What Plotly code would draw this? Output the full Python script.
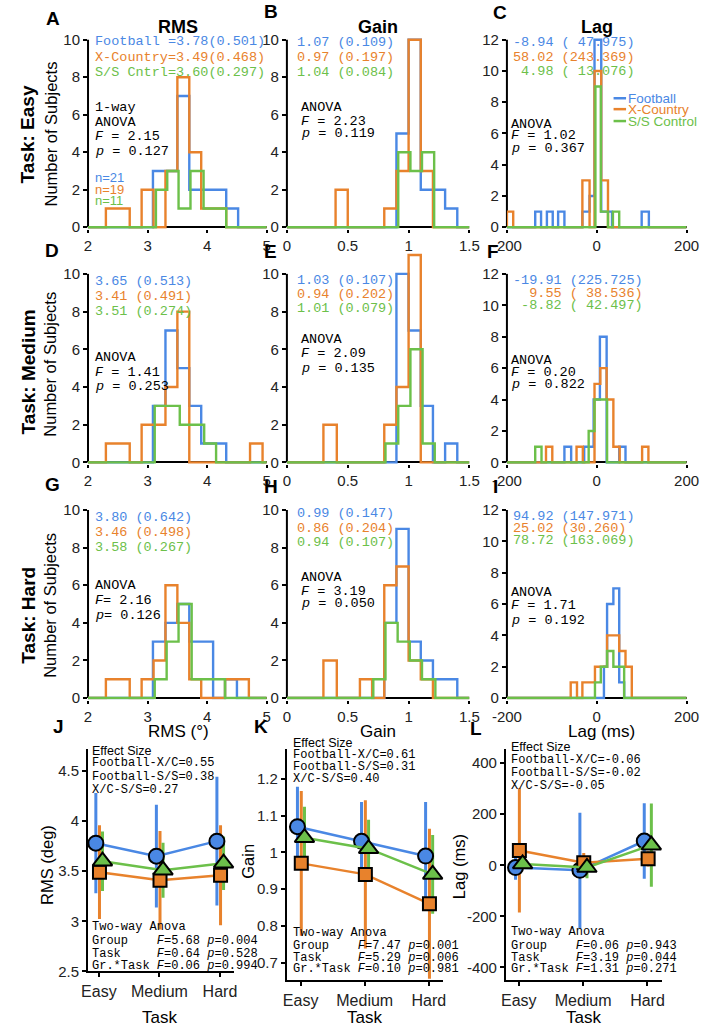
import plotly.graph_objects as go

W, H = 714, 1035

groups = ["Football", "X-Country", "S/S Control"]
short_groups = ["Football ", "X-Country", "S/S Cntrl"]
colors = ["#4A88E4", "#E8822C", "#6CC04A"]
tasks = ["Easy", "Medium", "Hard"]
n_subjects = [21, 19, 11]

# mean / sd, rows = group (Football, X-Country, S/S Control), cols = task (Easy, Medium, Hard)
rms_mean = [[3.78, 3.65, 3.80], [3.49, 3.41, 3.46], [3.60, 3.51, 3.58]]
rms_sd = [[0.501, 0.513, 0.642], [0.468, 0.491, 0.498], [0.297, 0.274, 0.267]]
gain_mean = [[1.07, 1.03, 0.99], [0.97, 0.94, 0.86], [1.04, 1.01, 0.94]]
gain_sd = [[0.109, 0.107, 0.147], [0.197, 0.202, 0.204], [0.084, 0.079, 0.107]]
lag_mean = [[-8.94, -19.91, 94.92], [58.02, 9.55, 25.02], [4.98, -8.82, 78.72]]
lag_sd = [[47.975, 225.725, 147.971], [243.369, 38.536, 30.260], [13.076, 42.497, 163.069]]

# one-way ANOVA, rows = task, cols = measure (RMS, Gain, Lag)
anova_F = [[2.15, 2.23, 1.02], [1.41, 2.09, 0.20], [2.16, 3.19, 1.71]]
anova_p = [[0.127, 0.119, 0.367], [0.253, 0.135, 0.822], [0.126, 0.050, 0.192]]

effect_labels = ["Football-X/C", "Football-S/S", "X/C-S/S"]
rms_effect = [0.55, 0.38, 0.27]
gain_effect = [0.61, 0.31, 0.40]
lag_effect = [-0.06, -0.02, -0.05]

anova2_rows = ["Group", "Task", "Gr.*Task"]
rms_F2 = [5.68, 0.64, 0.06]
rms_p2 = [0.004, 0.528, 0.994]
gain_F2 = [7.47, 5.29, 0.10]
gain_p2 = [0.001, 0.006, 0.981]
lag_F2 = [0.06, 3.19, 1.31]
lag_p2 = [0.943, 0.044, 0.271]

# histogram bin edges / counts per panel, lists = [Football, X-Country, S/S Control]
edges_A = [[3.09, 3.3, 3.5, 3.7, 3.9, 4.1, 4.32, 4.52],
           [2.3, 2.7, 2.9, 3.1, 3.3, 3.5, 3.7, 3.9, 4.32],
           [3.14, 3.33, 3.52, 3.72, 3.94, 4.32]]
counts_A = [[3, 3, 7, 2, 2, 2, 1], [1, 0, 2, 0, 3, 8, 4, 1], [2, 3, 1, 3, 1]]
edges_B = [[0.9, 1.0, 1.1, 1.2, 1.3, 1.4],
           [0.4, 0.5, 0.8, 0.9, 1.0, 1.1, 1.2],
           [0.915, 1.015, 1.11, 1.21]]
counts_B = [[5, 10, 2, 2, 1], [2, 0, 1, 3, 10, 3], [4, 3, 4]]
edges_C = [[-137, -124, -111, -98, -86, -72, -32, -16, -5, 10, 22, 34, 100, 116],
           [-200, -186, -32, -16, -5, 10, 25],
           [-3, 9, 25, 36, 50]]
counts_C = [[1, 0, 1, 0, 1, 0, 1, 2, 12, 1, 1, 0, 1], [1, 0, 3, 0, 10, 3], [9, 1, 0, 1]]
edges_D = [[3.09, 3.3, 3.5, 3.7, 3.9, 4.32],
           [2.3, 2.7, 2.9, 3.3, 3.5, 3.7, 4.72, 4.93],
           [3.12, 3.54, 3.95, 4.15]]
counts_D = [[3, 7, 5, 3, 1], [1, 0, 2, 4, 8, 0, 1], [3, 2, 1]]
edges_E = [[0.9, 1.0, 1.1, 1.2, 1.3, 1.4],
           [0.3, 0.41, 0.8, 0.9, 1.0, 1.1],
           [0.81, 0.915, 1.015, 1.115, 1.215]]
counts_E = [[10, 7, 3, 0, 1], [2, 0, 2, 4, 11], [1, 3, 6, 1]]
edges_F = [[-72, -57, -28, -7, 7, 22, 50, 64],
           [-113, -99, -45, -31, -5, 8, 22, 37, 51, 101, 115],
           [-137, -123, -18, -5, 9, 23]]
counts_F = [[1, 0, 1, 4, 8, 0, 1], [1, 0, 1, 0, 5, 6, 4, 1, 0, 1], [1, 0, 2, 4, 4]]
edges_G = [[3.09, 3.3, 3.5, 3.7, 4.1, 4.3, 4.5],
           [2.3, 2.7, 2.9, 3.1, 3.3, 3.5, 3.7, 3.9, 4.3, 4.7],
           [3.12, 3.32, 3.52, 3.74, 4.3]]
counts_G = [[3, 4, 5, 3, 0, 1], [1, 0, 1, 2, 6, 4, 1, 0, 1], [1, 3, 5, 1]]
edges_H = [[0.8, 0.9, 1.0, 1.1, 1.2, 1.4],
           [0.3, 0.41, 0.6, 0.7, 0.8, 0.9, 1.0, 1.1, 1.2],
           [0.71, 0.81, 0.91, 1.01, 1.11, 1.22]]
counts_H = [[4, 9, 3, 2, 1], [2, 0, 1, 0, 6, 7, 2, 1], [1, 4, 3, 2, 1]]
edges_I = [[16, 23, 37, 50, 61],
           [-58, -44, -32, -4, 23, 50, 64, 78],
           [-4, 9, 23, 37, 61]]
counts_I = [[2, 6, 7, 1], [1, 0, 1, 2, 4, 3, 2], [1, 2, 3, 2]]

hist_edges = [[edges_A, edges_B, edges_C], [edges_D, edges_E, edges_F], [edges_G, edges_H, edges_I]]
hist_counts = [[counts_A, counts_B, counts_C], [counts_D, counts_E, counts_F], [counts_G, counts_H, counts_I]]

measure_x_range = [[2, 5], [0, 1.5], [-200, 200]]
measure_x_ticks = [[2, 3, 4, 5], [0, 0.5, 1, 1.5], [-200, 0, 200]]
measure_x_ticktext = [["2", "3", "4", "5"], ["0", "0.5", "1", "1.5"], ["-200", "0", "200"]]
measure_y_top = [10, 10, 12]
hist_titles = ["RMS", "Gain", "Lag"]
hist_xtitles = ["RMS (°)", "Gain", "Lag (ms)"]

SANS = "Liberation Sans, Arial, sans-serif"
MONO = "Liberation Mono, Courier New, monospace"
NB = "\u00a0"


def px(x):
    return x / W


def py(y):
    return 1 - y / H


fig = go.Figure()
layout = {}
annotations = []
shapes = []


def ann(text, x, y, size=14, color="black", family=MONO, xanchor="left", bold=False, angle=0):
    if bold:
        text = "<b>" + text + "</b>"
    annotations.append(dict(text=text, x=px(x), y=py(y), xref="paper", yref="paper",
                            xanchor=xanchor, yanchor="middle", showarrow=False,
                            textangle=angle, borderpad=0,
                            font=dict(size=size, color=color, family=family)))


# ---------- histogram panels ----------
hist_xdom = [(76, 262), (283, 473), (512, 699)]
hist_ydom = [(229, 40), (466, 276), (703.5, 514)]
EXTRA = 26

idx = 0
for r in range(3):
    for c in range(3):
        idx += 1
        xname = "xaxis" if idx == 1 else f"xaxis{idx}"
        yname = "yaxis" if idx == 1 else f"yaxis{idx}"
        xref = "x" if idx == 1 else f"x{idx}"
        yref = "y" if idx == 1 else f"y{idx}"
        top = measure_y_top[c]
        zero_px, top_px = hist_ydom[r]
        scale = (zero_px - top_px) / top
        xr = measure_x_range[c]
        layout[xname] = dict(domain=[px(hist_xdom[c][0]), px(hist_xdom[c][1])], range=xr,
                             anchor=yref, showgrid=False, zeroline=False, showline=False,
                             tickvals=measure_x_ticks[c], ticktext=measure_x_ticktext[c],
                             ticks="outside", ticklen=3, tickwidth=1.5, tickcolor="black",
                             tickfont=dict(size=15, family=SANS, color="#222"))
        layout[yname] = dict(domain=[py(zero_px + 1.5), py(top_px - EXTRA)],
                             range=[-1.5 / scale, top + EXTRA / scale],
                             anchor=xref, showgrid=False, zeroline=True, zerolinecolor="black",
                             zerolinewidth=1.8, showline=False,
                             tickvals=list(range(0, top + 1, 2)),
                             ticks="outside", ticklen=4, tickwidth=1.5, tickcolor="black",
                             tickfont=dict(size=15, family=SANS, color="#222"))
        shapes.append(dict(type="line", xref=f"{xref} domain", yref=yref, x0=0, x1=0, y0=0, y1=top,
                           line=dict(color="black", width=2), layer="below"))
        for g in range(3):
            e = hist_edges[r][c][g]
            cnt = hist_counts[r][c][g]
            xs = [xr[0]] + e + [xr[1]]
            ys = [0] + cnt + [0, 0]
            fig.add_trace(go.Scatter(x=xs, y=ys, mode="lines", line=dict(color=colors[g], width=2.4, shape="hv"),
                                     xaxis=xref, yaxis=yref, showlegend=False, hoverinfo="skip"))

# mean (sd) texts
means_all = [rms_mean, gain_mean, lag_mean]
sds_all = [rms_sd, gain_sd, lag_sd]
mean_text_pos = [
    [(82, [42, 58, 73]), (292, [43, 58, 73]), (517, [43, 58, 72])],
    [(82, [284, 299, 314]), (292, [283, 297, 311]), (517, [283, 296, 308])],
    [(82, [522, 537, 552]), (292, [517, 533, 547]), (517, [521, 533, 545])],
]
for r in range(3):
    for c in range(3):
        x0, ys = mean_text_pos[r][c]
        for g in range(3):
            m = means_all[c][g][r]
            s = sds_all[c][g][r]
            if r == 0 and c == 0:
                t = f"{short_groups[g]}={m:.2f}({s:.3f})"
            elif c < 2:
                t = f"{m:.2f} ({s:.3f})"
            elif r == 0:
                t = f"{m:5.2f} ({s:7.3f})"
            elif r == 1:
                t = f"{m:6.2f} ({s:7.3f})"
            else:
                t = f"{m:.2f} ({s:.3f})"
            ann(t.replace(" ", NB), x0, ys[g], size=13.5, color=colors[g])

# ANOVA texts
anova_pos = [
    [(82, [123, 138, 153]), (297, [108, 122, 135]), (515, [125, 137, 150])],
    [(82, [360, 375, 390]), (297, [342, 356, 371]), (515, [363, 375, 387])],
    [(82, [590, 605, 620]), (297, [582, 596, 608]), (515, [597, 610, 625])],
]
for r in range(3):
    for c in range(3):
        x0, ys = anova_pos[r][c]
        eq = "=" + NB if (r == 2 and c == 0) else NB + "=" + NB
        ann("ANOVA", x0, ys[0], size=13.5)
        ann(f"<i>F</i>{eq}{anova_F[r][c]:.2f}", x0, ys[1], size=13.5)
        ann(f"<i>p</i>{eq}{anova_p[r][c]:.3f}", x0, ys[2], size=13.5)
ann("1-way", 82, 108, size=13.5)
for g in range(3):
    ann(f"n={n_subjects[g]}", 82, [179, 191, 202][g], size=13, color=colors[g], family=SANS)

# legend in panel C
for g in range(3):
    yy = [99, 110, 122][g]
    shapes.append(dict(type="line", xref="paper", yref="paper", x0=px(623), x1=px(636), y0=py(yy), y1=py(yy),
                       line=dict(color=colors[g], width=2.5)))
    ann(groups[g], 637, yy, size=13.5, color=colors[g], family=SANS)

# titles & labels
for c, (xx, t) in enumerate(zip([170, 378, 606], hist_titles)):
    ann(t, xx, 27, size=18, family=SANS, xanchor="center", bold=True)
for xx, t in zip([170, 378, 610], hist_xtitles):
    ann(t, xx, 737, size=17, family=SANS, xanchor="center")
for yy, t in zip([135, 375, 620], tasks):
    ann("Task: " + t, 14, yy, size=19, family=SANS, xanchor="center", bold=True, angle=-90)
for yy in [135, 367, 610]:
    ann("Number of Subjects", 37, yy, size=16.5, family=SANS, xanchor="center", angle=-90)

letters = [("A", 40, 19), ("B", 266, 12), ("C", 505, 13), ("D", 39, 252), ("E", 266, 253), ("F", 497, 253),
           ("G", 39, 488), ("H", 266, 490), ("I", 500, 490), ("J", 45, 732), ("K", 256, 732), ("L", 480, 734)]
for t, xx, yy in letters:
    ann(t, xx, yy, size=19, family=SANS, xanchor="center", bold=True)

# ---------- bottom line plots ----------
bottom_xdom = [(76, 228), (283, 445), (511, 673)]
bottom_easy = [(87.3, 63.0), (297.3, 66.7), (524.3, 67.0)]
bottom_ydom = [(979, 755), (988, 755), (988, 755)]
# (tick value a, px a, tick value b, px b)
bottom_ycal = [(2.5, 979, 4.5, 777), (0.7, 970, 1.2, 785), (-400, 975, 400, 769)]
bottom_yticks = [[2.5, 3, 3.5, 4, 4.5], [0.7, 0.8, 0.9, 1.0, 1.1, 1.2], [-400, -200, 0, 200, 400]]
bottom_yticktext = [["2.5", "3", "3.5", "4", "4.5"], ["0.7", "0.8", "0.9", "1", "1.1", "1.2"],
                    ["-400", "-200", "0", "200", "400"]]
bottom_ytitles = ["RMS (deg)", "Gain", "Lag (ms)"]
bottom_ytitle_pos = [(34, 872), (243, 868), (462, 873)]
offsets = [-0.05, 0.01, 0.06]
markers = ["circle", "square", "triangle-up"]
msizes = [15, 13, 17]
effects = [rms_effect, gain_effect, lag_effect]
F2s = [rms_F2, gain_F2, lag_F2]
p2s = [rms_p2, gain_p2, lag_p2]
eff_pos = [(79, [757, 769, 783, 796]), (288, [749, 761, 773, 785]), (515, [753, 766, 779, 792])]
two_pos = [(79, [934, 948, 961, 974]), (288, [940, 953, 965, 977]), (515, [939, 953, 965, 977])]

for c in range(3):
    idx = 10 + c
    xname, yname = f"xaxis{idx}", f"yaxis{idx}"
    xref, yref = f"x{idx}", f"y{idx}"
    ex, sp = bottom_easy[c]
    x0p, x1p = bottom_xdom[c]
    va, pa, vb, pb = bottom_ycal[c]
    k = (pa - pb) / (vb - va)
    ybot, ytop = bottom_ydom[c]
    yr = [va - (ybot - pa) / k, vb + (pb - ytop) / k]
    layout[xname] = dict(domain=[px(x0p), px(x1p)], range=[(x0p - ex) / sp, (x1p - ex) / sp], anchor=yref,
                         showgrid=False, zeroline=False, showline=True, linecolor="black", linewidth=2,
                         tickvals=[0, 1, 2], ticktext=tasks, ticks="outside", ticklen=4, tickwidth=1.5,
                         tickcolor="black", tickfont=dict(size=16, family=SANS, color="#222"))
    layout[yname] = dict(domain=[py(ybot), py(ytop)], range=yr, anchor=xref,
                         showgrid=False, zeroline=False, showline=True, linecolor="black", linewidth=2,
                         tickvals=bottom_yticks[c], ticktext=bottom_yticktext[c], ticks="outside", ticklen=4,
                         tickwidth=1.5, tickcolor="black", tickfont=dict(size=15, family=SANS, color="#222"))
    mean_c = means_all[c]
    sd_c = sds_all[c]
    for g in range(3):
        fig.add_trace(go.Scatter(x=[t + offsets[g] for t in range(3)], y=mean_c[g], mode="markers",
                                 marker=dict(size=1, color=colors[g], opacity=0),
                                 error_y=dict(type="data", array=sd_c[g], visible=True, color=colors[g],
                                              thickness=3, width=0),
                                 xaxis=xref, yaxis=yref, showlegend=False, hoverinfo="skip"))
    for g in range(3):
        fig.add_trace(go.Scatter(x=[t + offsets[g] for t in range(3)], y=mean_c[g], mode="lines+markers",
                                 line=dict(color=colors[g], width=2.5),
                                 marker=dict(symbol=markers[g], size=msizes[g], color=colors[g],
                                             line=dict(color="black", width=2)),
                                 xaxis=xref, yaxis=yref, showlegend=False, cliponaxis=False))
    xx, yy = bottom_ytitle_pos[c]
    ann(bottom_ytitles[c], xx, yy, size=16.5, family=SANS, xanchor="center", angle=-90)
    ann("Task", [150, 364, 592][c], 1025, size=17, family=SANS, xanchor="center")
    ex0, eys = eff_pos[c]
    ann("Effect Size", ex0, eys[0], size=12.5, family=SANS)
    for i in range(3):
        ann(f"{effect_labels[i]}={effects[c][i]:.2f}", ex0, eys[i + 1], size=12)
    tx0, tys = two_pos[c]
    ann("Two-way" + NB + "Anova", tx0, tys[0], size=12)
    for i in range(3):
        lab = anova2_rows[i].ljust(9).replace(" ", NB)
        ann(f"{lab}<i>F</i>={F2s[c][i]:.2f}{NB}<i>p</i>={p2s[c][i]:.3f}", tx0, tys[i + 1], size=12)

fig.update_layout(width=W, height=H, margin=dict(l=0, r=0, t=0, b=0), paper_bgcolor="white",
                  plot_bgcolor="rgba(0,0,0,0)", showlegend=False, annotations=annotations, shapes=shapes,
                  **layout)
fig.write_html("out.html", config={"displayModeBar": False},
               post_script="document.body.style.margin='0';document.body.style.overflow='hidden';")
